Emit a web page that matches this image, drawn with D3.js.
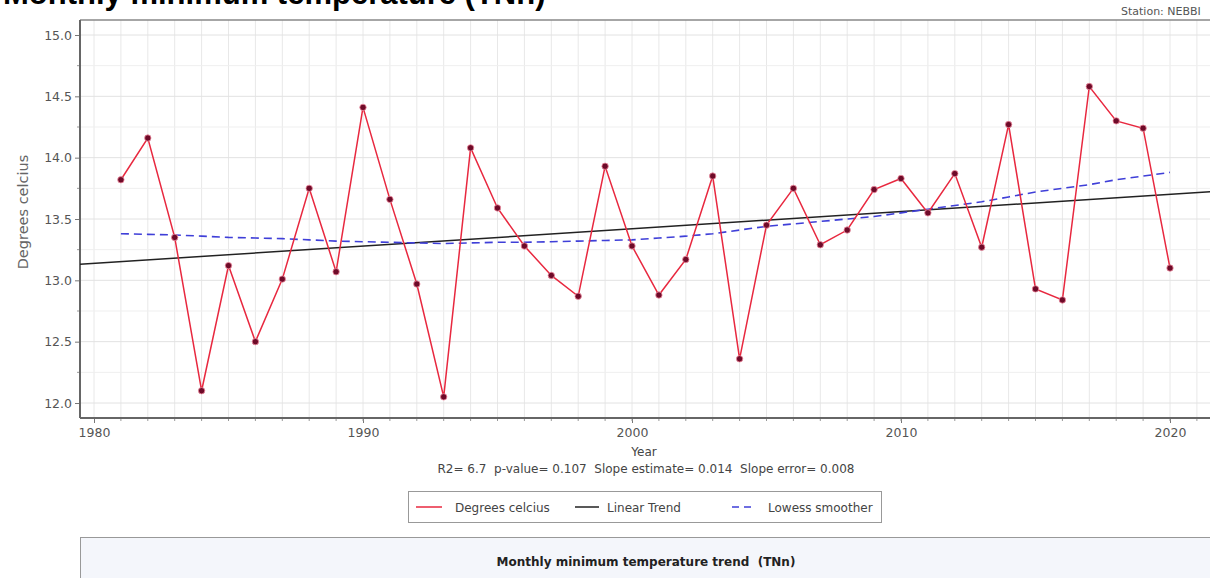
<!DOCTYPE html>
<html>
<head>
<meta charset="utf-8">
<script src="https://cdn.jsdelivr.net/npm/d3@7"></script>
<style>
  body { margin: 0; background: #fff; overflow: hidden; }
  svg { font-family: "DejaVu Sans", Verdana, sans-serif; }
</style>
</head>
<body>
<div id="chart"></div>
<script>
// yearly values
var years = [1981,1982,1983,1984,1985,1986,1987,1988,1989,1990,
             1991,1992,1993,1994,1995,1996,1997,1998,1999,2000,
             2001,2002,2003,2004,2005,2006,2007,2008,2009,2010,
             2011,2012,2013,2014,2015,2016,2017,2018,2019,2020];
var tnn = [13.82,14.16,13.35,12.10,13.12,12.50,13.01,13.75,13.07,14.41,
           13.66,12.97,12.05,14.08,13.59,13.28,13.04,12.87,13.93,13.28,
           12.88,13.17,13.85,12.36,13.45,13.75,13.29,13.41,13.74,13.83,
           13.55,13.87,13.27,14.27,12.93,12.84,14.58,14.30,14.24,13.10];
var lowess = [13.38,13.375,13.37,13.36,13.35,13.345,13.34,13.33,13.32,13.315,
              13.31,13.305,13.30,13.305,13.31,13.31,13.315,13.32,13.325,13.33,
              13.345,13.36,13.38,13.41,13.44,13.46,13.48,13.50,13.52,13.55,
              13.58,13.61,13.64,13.68,13.72,13.75,13.78,13.82,13.85,13.88];
// linear trend end points (left and right edges of the plot)
var trendYears = [1979.4, 2022.0];
var trendValues = [13.13, 13.73];

var yTicks = [12.0,12.5,13.0,13.5,14.0,14.5,15.0];
var xTicks = [1980,1990,2000,2010,2020];
var legendKeys = ["Degrees celcius","Linear Trend","Lowess smoother"];
var statsText = "R2= 6.7  p-value= 0.107  Slope estimate= 0.014  Slope error= 0.008";

var W = 1210, H = 578;
var plot = {left: 80, right: 1222, top: 20, bottom: 418};

var svg = d3.select("#chart").append("svg")
    .attr("width", W).attr("height", H);

var x = d3.scaleLinear().domain([1980, 2020]).range([94, 1170]);
var y = d3.scaleLinear().domain([12, 15]).range([403, 35]);

// title, mostly cut off at the top
svg.append("text")
    .attr("x", 3).attr("y", 4)
    .style("font-family", "'Liberation Sans', Arial, sans-serif")
    .style("font-size", "31px").style("font-weight", "bold")
    .attr("fill", "#000")
    .text("Monthly minimum temperature (TNn)");

svg.append("text")
    .attr("x", 1121).attr("y", 15)
    .style("font-size", "11px").attr("fill", "#555")
    .text("Station: NEBBI");

svg.append("defs").append("clipPath").attr("id", "clip")
  .append("rect")
    .attr("x", plot.left).attr("y", plot.top)
    .attr("width", plot.right - plot.left).attr("height", plot.bottom - plot.top);

// grid
var grid = svg.append("g").attr("clip-path", "url(#clip)");
grid.selectAll(".vg").data(d3.range(1979, 2023)).enter().append("line")
    .attr("x1", function(d) { return x(d); }).attr("x2", function(d) { return x(d); })
    .attr("y1", plot.top).attr("y2", plot.bottom)
    .attr("stroke", "#e8e8e8").attr("stroke-width", 1);
grid.selectAll(".hg").data(d3.range(12, 15.01, 0.25)).enter().append("line")
    .attr("x1", plot.left).attr("x2", plot.right)
    .attr("y1", function(d) { return y(d); }).attr("y2", function(d) { return y(d); })
    .attr("stroke", function(d, i) { return i % 2 == 0 ? "#e2e2e2" : "#efefef"; })
    .attr("stroke-width", 1);

// axes
var yAxis = d3.axisLeft(y).tickValues(yTicks).tickFormat(d3.format(".1f")).tickSize(5).tickSizeOuter(0);
var gy = svg.append("g").attr("transform", "translate(" + plot.left + ",0)").call(yAxis);
gy.select(".domain").remove();
gy.selectAll("text").style("font-size", "12.5px").style("font-family", "'DejaVu Sans', sans-serif").attr("fill", "#555");
gy.selectAll("line").attr("stroke", "#777");
svg.append("g").selectAll("line").data(d3.range(12.25, 15, 0.5)).enter().append("line")
    .attr("x1", plot.left - 3).attr("x2", plot.left)
    .attr("y1", function(d) { return y(d); }).attr("y2", function(d) { return y(d); })
    .attr("stroke", "#999");

var xAxis = d3.axisBottom(x).tickValues(xTicks).tickFormat(d3.format("d")).tickSize(5).tickSizeOuter(0);
var gx = svg.append("g").attr("transform", "translate(0," + plot.bottom + ")").call(xAxis);
gx.select(".domain").remove();
gx.selectAll("text").style("font-size", "12.5px").style("font-family", "'DejaVu Sans', sans-serif").attr("fill", "#555").attr("dy", "0.85em");
gx.selectAll("line").attr("stroke", "#777");
svg.append("g").selectAll("line").data(d3.range(1981, 2022)).enter().append("line")
    .attr("x1", function(d) { return x(d); }).attr("x2", function(d) { return x(d); })
    .attr("y1", plot.bottom).attr("y2", plot.bottom + 3)
    .attr("stroke", "#999");

// frame
svg.append("line").attr("x1", plot.left).attr("x2", plot.right)
    .attr("y1", plot.top).attr("y2", plot.top).attr("stroke", "#888").attr("stroke-width", 1.5);
svg.append("line").attr("x1", plot.left).attr("x2", plot.left)
    .attr("y1", plot.top).attr("y2", plot.bottom).attr("stroke", "#666").attr("stroke-width", 2);
svg.append("line").attr("x1", plot.left).attr("x2", plot.right)
    .attr("y1", plot.bottom).attr("y2", plot.bottom).attr("stroke", "#666").attr("stroke-width", 2);

// axis titles
svg.append("text")
    .attr("transform", "translate(23," + 212 + ") rotate(-90)")
    .attr("text-anchor", "middle").attr("dy", "0.35em")
    .style("font-size", "14.5px").attr("fill", "#666")
    .text("Degrees celcius");
svg.append("text")
    .attr("x", 644).attr("y", 456)
    .attr("text-anchor", "middle")
    .style("font-size", "12px").attr("fill", "#444")
    .text("Year");
svg.append("text")
    .attr("x", 646).attr("y", 473)
    .attr("text-anchor", "middle")
    .style("font-size", "12px").attr("fill", "#444")
    .attr("xml:space", "preserve")
    .text(statsText);

// series
var marks = svg.append("g").attr("clip-path", "url(#clip)");
var line = d3.line()
    .x(function(d) { return x(d[0]); })
    .y(function(d) { return y(d[1]); });

marks.append("path")
    .datum(d3.zip(trendYears, trendValues))
    .attr("d", line).attr("fill", "none")
    .attr("stroke", "#222").attr("stroke-width", 1.5);

marks.append("path")
    .datum(d3.zip(years, lowess))
    .attr("d", line).attr("fill", "none")
    .attr("stroke", "#3f3fd8").attr("stroke-width", 1.6)
    .attr("stroke-dasharray", "8,5");

marks.append("path")
    .datum(d3.zip(years, tnn))
    .attr("d", line).attr("fill", "none")
    .attr("stroke", "#e8283f").attr("stroke-width", 1.5);

marks.selectAll(".dot").data(d3.zip(years, tnn)).enter().append("circle")
    .attr("cx", function(d) { return x(d[0]); })
    .attr("cy", function(d) { return y(d[1]); })
    .attr("r", 3.2)
    .attr("fill", "#6e0a28")
    .attr("stroke", "#f08ca0").attr("stroke-width", 0.8);

// legend
var lg = svg.append("g");
lg.append("rect").attr("x", 408.5).attr("y", 491.5).attr("width", 473).attr("height", 31)
    .attr("fill", "#fff").attr("stroke", "#999");
var legendX = [416, 575, 732];
var legendStyle = [
  {stroke: "#e8283f", dash: null, w: 26, tx: 39},
  {stroke: "#222", dash: null, w: 24, tx: 32},
  {stroke: "#3f3fd8", dash: "7,5", w: 19, tx: 36}
];
var item = lg.selectAll(".item").data(legendKeys).enter().append("g")
    .attr("transform", function(d, i) { return "translate(" + legendX[i] + ",507)"; });
item.append("line")
    .attr("x1", 0).attr("x2", function(d, i) { return legendStyle[i].w; })
    .attr("y1", 0).attr("y2", 0)
    .attr("stroke", function(d, i) { return legendStyle[i].stroke; })
    .attr("stroke-width", 1.5)
    .attr("stroke-dasharray", function(d, i) { return legendStyle[i].dash; });
item.append("text")
    .attr("x", function(d, i) { return legendStyle[i].tx; }).attr("y", 4.5)
    .style("font-size", "12px").attr("fill", "#444")
    .text(function(d) { return d; });

// bottom panel
svg.append("rect").attr("x", 80.5).attr("y", 537.5).attr("width", 1140).attr("height", 50)
    .attr("fill", "#f4f6fb").attr("stroke", "#999");
svg.append("text")
    .attr("x", 646).attr("y", 566)
    .attr("text-anchor", "middle")
    .style("font-size", "12px").style("font-weight", "bold").attr("fill", "#222")
    .attr("xml:space", "preserve")
    .text("Monthly minimum temperature trend  (TNn)");
</script>
</body>
</html>
